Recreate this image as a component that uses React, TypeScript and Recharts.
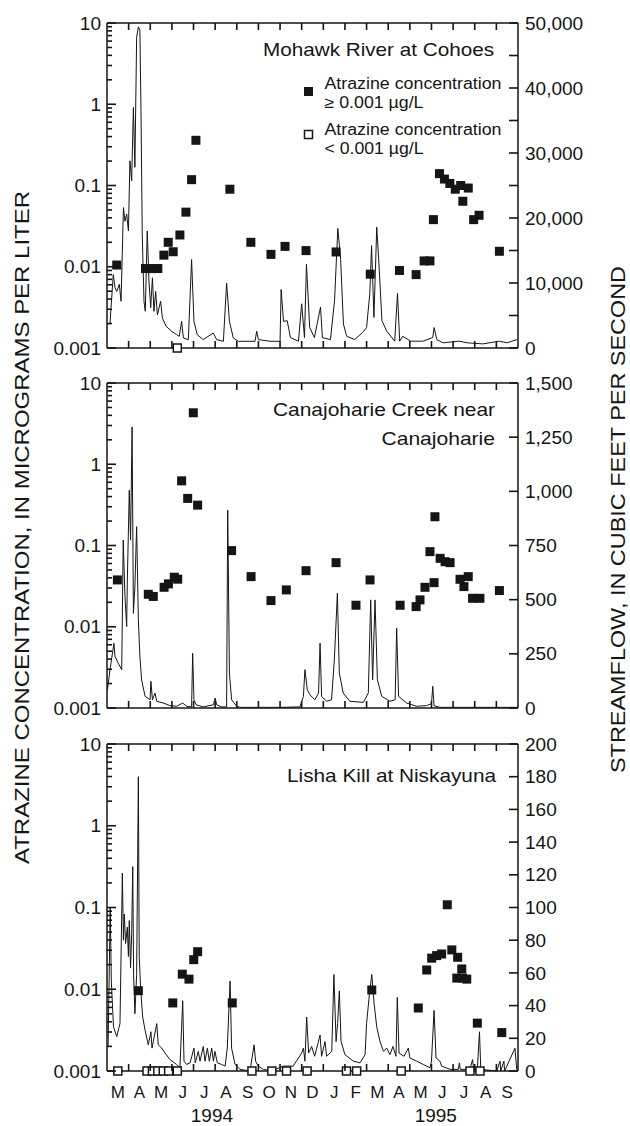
import React from 'react';
import { ComposedChart, Line, Scatter, XAxis, YAxis, ReferenceLine } from 'recharts';

// x values are months counted from 1 March 1994
const MONTHS = ['M', 'A', 'M', 'J', 'J', 'A', 'S', 'O', 'N', 'D', 'J', 'F', 'M', 'A', 'M', 'J', 'J', 'A', 'S'];
const YEARS = [
  { m: 4.85, label: '1994' },
  { m: 15.2, label: '1995' },
];
const CONC_MAJOR = [0.001, 0.01, 0.1, 1, 10];

// Mohawk River at Cohoes
const mohawkFlow: [number, number][] = [
  [0.02, 3600], [0.14, 3850], [0.29, 11300], [0.37, 9300], [0.45, 8700], [0.57, 9800], [0.65, 7200],
  [0.76, 21600], [0.83, 19500], [0.91, 20600], [0.99, 18000], [1.06, 28800], [1.14, 25700], [1.22, 37000],
  [1.29, 27800], [1.37, 47800], [1.45, 49400], [1.52, 48900], [1.57, 37000], [1.63, 17500], [1.71, 7200],
  [1.77, 5650], [1.86, 18000], [1.94, 10300], [2.02, 6200], [2.1, 10800], [2.17, 5650], [2.25, 8700],
  [2.33, 5100], [2.48, 7200], [2.56, 4600], [2.73, 3350], [2.99, 2570], [3.22, 2050], [3.34, 1800],
  [3.45, 4100], [3.53, 1540], [3.76, 1290], [3.91, 13600], [4.02, 4100], [4.17, 2050], [4.45, 1290],
  [4.91, 2300], [5.07, 1290], [5.38, 1030], [5.53, 10000], [5.66, 4100], [5.84, 1540], [6.07, 1030],
  [6.84, 1030], [6.92, 2570], [7.0, 1290], [7.54, 1030], [8.0, 1030], [8.05, 9000], [8.16, 4100],
  [8.33, 4200], [8.48, 1600], [8.85, 1050], [9.0, 6800], [9.13, 1600], [9.22, 12900], [9.37, 3150],
  [9.59, 1600], [9.87, 6300], [9.96, 1600], [10.33, 1300], [10.52, 7350], [10.67, 18400], [10.8, 13650],
  [10.93, 3700], [11.08, 1800], [11.45, 1300], [11.82, 2400], [12.0, 3150], [12.15, 8400], [12.23, 15750],
  [12.34, 4700], [12.47, 18600], [12.56, 13650], [12.71, 4200], [12.93, 2600], [13.3, 1050], [13.43, 8400],
  [13.53, 1050], [13.67, 1800], [14.04, 1050], [14.6, 1050], [15.06, 1600], [15.12, 3150], [15.25, 1300],
  [15.53, 800], [16.27, 1050], [16.64, 800], [17.38, 630], [18.13, 1050], [18.5, 800], [18.96, 1300],
];
const mohawkDetect: [number, number][] = [
  [0.45, 0.0105], [1.78, 0.0095], [2.07, 0.0095], [2.35, 0.0095], [2.63, 0.0139], [2.83, 0.02], [3.06, 0.0153],
  [3.37, 0.0246], [3.65, 0.047], [3.91, 0.118], [4.11, 0.36], [5.68, 0.09], [6.65, 0.02], [7.58, 0.0142],
  [8.23, 0.0178], [9.2, 0.0158], [10.59, 0.0152], [12.17, 0.0081], [13.52, 0.009], [14.29, 0.008],
  [14.66, 0.0118], [14.93, 0.0118], [15.09, 0.038], [15.37, 0.14], [15.6, 0.12], [15.85, 0.106], [16.1, 0.09],
  [16.35, 0.1], [16.45, 0.064], [16.7, 0.093], [16.95, 0.038], [17.2, 0.043], [18.14, 0.0155],
];
const mohawkNonDetect = [3.25];

// Canajoharie Creek near Canajoharie
const canajoharieFlow: [number, number][] = [
  [0.02, 84], [0.14, 177], [0.32, 299], [0.37, 238], [0.52, 207], [0.68, 177], [0.75, 775], [0.83, 514],
  [0.91, 376], [0.94, 591], [1.03, 1005], [1.09, 775], [1.16, 1297], [1.22, 437], [1.29, 560], [1.37, 837],
  [1.45, 407], [1.52, 238], [1.6, 130], [1.76, 54], [1.99, 38], [2.03, 123], [2.1, 38], [2.22, 69],
  [2.3, 31], [2.6, 23], [2.91, 11], [3.22, 8], [3.5, 23], [3.68, 8], [3.91, 5], [3.96, 253], [4.02, 38],
  [4.12, 15], [4.45, 5], [4.92, 15], [5.0, 46], [5.07, 15], [5.3, 5], [5.53, 5], [5.58, 913], [5.66, 161],
  [5.76, 38], [5.99, 8], [6.15, 3], [7.0, 3], [8.0, 3], [8.92, 5], [9.08, 54], [9.15, 177], [9.26, 84],
  [9.38, 61], [9.61, 38], [9.78, 69], [9.85, 299], [9.92, 54], [10.15, 31], [10.38, 38], [10.51, 223],
  [10.65, 530], [10.74, 161], [10.92, 69], [11.23, 31], [11.85, 26], [12.08, 69], [12.19, 499], [12.28, 130],
  [12.39, 499], [12.5, 130], [12.7, 54], [13.08, 31], [13.32, 38], [13.39, 368], [13.48, 54], [13.85, 23],
  [14.31, 8], [14.77, 11], [15.0, 20], [15.06, 100], [15.12, 10], [15.4, 3], [18.99, 3],
];
const canajoharieDetect: [number, number][] = [
  [0.48, 0.0377], [1.91, 0.0251], [2.14, 0.0236], [2.64, 0.0306], [2.84, 0.0337], [3.11, 0.0407],
  [3.27, 0.0385], [3.45, 0.625], [3.73, 0.38], [3.99, 4.3], [4.19, 0.314], [5.76, 0.0865], [6.66, 0.0414],
  [7.58, 0.021], [8.29, 0.0284], [9.2, 0.049], [10.59, 0.0615], [11.51, 0.0184], [12.16, 0.0377],
  [13.55, 0.0184], [14.29, 0.0177], [14.47, 0.0214], [14.7, 0.0306], [14.93, 0.084], [15.12, 0.0349],
  [15.16, 0.226], [15.4, 0.0695], [15.63, 0.0632], [15.86, 0.0615], [16.32, 0.0384], [16.5, 0.0312],
  [16.7, 0.0414], [16.9, 0.0224], [17.24, 0.0224], [18.14, 0.0279],
];
const canajoharieNonDetect: number[] = [];

// Lisha Kill at Niskayuna
const lishaFlow: [number, number][] = [
  [0.05, 15], [0.15, 100], [0.2, 55], [0.3, 27], [0.45, 21], [0.6, 29], [0.71, 121], [0.76, 80], [0.8, 96],
  [0.86, 78], [0.94, 88], [0.99, 70], [1.03, 92], [1.09, 63], [1.14, 84], [1.19, 125], [1.23, 59], [1.29, 35],
  [1.37, 59], [1.45, 180], [1.49, 70], [1.56, 49], [1.65, 33], [1.76, 25], [1.91, 16], [2.03, 24], [2.08, 14],
  [2.14, 18], [2.3, 29], [2.37, 16], [2.53, 14], [2.68, 11], [2.91, 7], [3.22, 4], [3.37, 2], [3.5, 43],
  [3.56, 6], [3.68, 4], [3.84, 5], [4.02, 14], [4.08, 5], [4.22, 12], [4.3, 6], [4.45, 15], [4.53, 6],
  [4.64, 14], [4.73, 6], [4.84, 14], [4.92, 6], [4.99, 12], [5.1, 5], [5.3, 4], [5.46, 3], [5.56, 14],
  [5.69, 55], [5.76, 14], [5.92, 4], [6.15, 1], [6.61, 0], [6.8, 16], [6.87, 6], [6.99, 3], [7.23, 1],
  [7.61, 0], [8.15, 3], [8.61, 3], [9.0, 11], [9.08, 14], [9.15, 6], [9.23, 33], [9.32, 11], [9.46, 15],
  [9.6, 9], [9.85, 22], [9.92, 9], [10.08, 18], [10.15, 9], [10.39, 12], [10.49, 59], [10.59, 18],
  [10.66, 29], [10.74, 49], [10.82, 18], [11.0, 10], [11.39, 6], [11.7, 5], [11.93, 10], [12.0, 29],
  [12.13, 47], [12.24, 59], [12.35, 41], [12.47, 27], [12.62, 18], [12.78, 12], [12.93, 14], [13.08, 10],
  [13.22, 15], [13.36, 9], [13.42, 45], [13.5, 11], [13.73, 9], [13.93, 14], [14.0, 8], [14.32, 6],
  [14.62, 4], [14.93, 2], [15.0, 6], [15.12, 37], [15.21, 8], [15.39, 6], [15.47, 3], [15.86, 1],
  [16.24, 1], [16.29, 5], [16.33, 1], [16.78, 1], [16.9, 7], [16.95, 1], [17.12, 1], [17.22, 24],
  [17.28, 1], [18.02, 0], [18.17, 6], [18.2, 0], [18.35, 6], [18.38, 0], [18.86, 14], [18.94, 1], [18.99, 0],
];
const lishaDetect: [number, number][] = [
  [1.45, 0.0096], [3.04, 0.0068], [3.48, 0.0153], [3.79, 0.0133], [4.01, 0.023], [4.19, 0.0288],
  [5.79, 0.0068], [12.24, 0.0098], [14.39, 0.0059], [14.78, 0.0172], [15.01, 0.024], [15.24, 0.0258],
  [15.47, 0.027], [15.73, 0.108], [15.94, 0.0303], [16.17, 0.0137], [16.21, 0.0246], [16.4, 0.0177],
  [16.44, 0.0137], [16.63, 0.0133], [17.12, 0.00385], [18.25, 0.00295],
];
const lishaNonDetect = [0.5, 1.85, 2.1, 2.35, 2.6, 2.85, 3.25, 6.7, 7.62, 8.3, 9.25, 11.07, 11.54, 13.6, 16.78, 17.24];

const FONT = '"Liberation Sans", Arial, Helvetica, sans-serif';
const INK = '#151515';

const concTicks = [
  ...CONC_MAJOR,
  ...CONC_MAJOR.slice(0, -1).flatMap((d) => [2, 3, 4, 5, 6, 7, 8, 9].map((k) => d * k)),
];
const boundaryTicks = MONTHS.slice(1).map((_, i) => i + 1);
const labelTicks = MONTHS.map((_, i) => i + 0.5);

const FilledSquare = (p: any) => (
  <rect x={p.cx - 4.5} y={p.cy - 4.5} width={9} height={9} fill={INK} />
);
const OpenSquare = (p: any) => (
  <rect x={p.cx - 4} y={p.cy - 4} width={8} height={8} fill="#fff" stroke={INK} strokeWidth={1.5} />
);

const BottomTick = ({ x, y, payload, plotTop, showLabels }: any) => {
  const v = payload.value;
  if (Number.isInteger(v)) {
    return (
      <g>
        <path d={`M${x},${y}V${y - 7}M${x},${plotTop}V${plotTop + 7}`} stroke={INK} strokeWidth={1.6} fill="none" />
      </g>
    );
  }
  if (!showLabels) return <g />;
  const year = YEARS.find((yr) => yr.m === v);
  if (year) {
    return (
      <text x={x} y={y + 44} dy="0.35em" textAnchor="middle" fontSize={19} fill={INK} fontFamily={FONT}>
        {year.label}
      </text>
    );
  }
  return (
    <text x={x} y={y + 21} dy="0.35em" textAnchor="middle" fontSize={17} fill={INK} fontFamily={FONT}>
      {MONTHS[Math.floor(v)]}
    </text>
  );
};

const LeftTick = ({ x, y, payload }: any) => {
  const v = payload.value;
  const major = CONC_MAJOR.includes(v);
  return (
    <g>
      <path d={`M${x},${y}H${x + (major ? 9 : 5)}`} stroke={INK} strokeWidth={1.6} fill="none" />
      {major && (
        <text x={x - 6} y={y} dy="0.35em" textAnchor="end" fontSize={19} fill={INK} fontFamily={FONT}>
          {String(v)}
        </text>
      )}
    </g>
  );
};

const RightTick = ({ x, y, payload, labelStep }: any) => {
  const v = payload.value;
  const labelled = v % labelStep === 0;
  return (
    <g>
      <path d={`M${x},${y}H${x - 9}`} stroke={INK} strokeWidth={1.6} fill="none" />
      {labelled && (
        <text x={x + 7} y={y} dy="0.35em" textAnchor="start" fontSize={19} fill={INK} fontFamily={FONT}>
          {v.toLocaleString('en-US')}
        </text>
      )}
    </g>
  );
};

interface PanelProps {
  flow: [number, number][];
  detect: [number, number][];
  nondetect: number[];
  flowTicks: number[];
  labelStep: number;
  top: number;
  height: number;
  marginTop: number;
  marginBottom: number;
  showLabels?: boolean;
}

const Panel = ({ flow, detect, nondetect, flowTicks, labelStep, top, height, marginTop, marginBottom, showLabels }: PanelProps) => {
  const flowData = flow.map(([m, q]) => ({ m, q }));
  const detectData = detect.map(([m, c]) => ({ m, c }));
  const nonDetectData = nondetect.map((m) => ({ m, c: 0.001 }));
  const xTicks = showLabels
    ? [...boundaryTicks, ...labelTicks, ...YEARS.map((yr) => yr.m)]
    : boundaryTicks;
  const frame = { stroke: INK, strokeWidth: 1.5 };
  return (
    <div style={{ position: 'absolute', left: 0, top, width: 630, height }}>
      <ComposedChart
        width={630}
        height={height}
        margin={{ top: marginTop, right: 0, bottom: marginBottom - 1, left: 0 }}
      >
        <XAxis
          xAxisId="m"
          dataKey="m"
          type="number"
          domain={[0, 19]}
          ticks={xTicks}
          interval={0}
          height={1}
          tickSize={0}
          tickMargin={0}
          tickLine={false}
          axisLine={frame}
          tick={(p: any) => <BottomTick {...p} plotTop={marginTop} showLabels={showLabels} />}
        />
        <YAxis
          yAxisId="c"
          orientation="left"
          type="number"
          scale="log"
          domain={[0.001, 10]}
          ticks={concTicks}
          interval={0}
          width={107}
          tickSize={0}
          tickMargin={0}
          tickLine={false}
          axisLine={frame}
          tick={(p: any) => <LeftTick {...p} />}
        />
        <YAxis
          yAxisId="q"
          orientation="right"
          type="number"
          domain={[0, flowTicks[flowTicks.length - 1]]}
          ticks={flowTicks}
          interval={0}
          width={112}
          tickSize={0}
          tickMargin={0}
          tickLine={false}
          axisLine={frame}
          tick={(p: any) => <RightTick {...p} labelStep={labelStep} />}
        />
        <ReferenceLine xAxisId="m" yAxisId="c" y={10} stroke={INK} strokeWidth={1.5} />
        <Line
          xAxisId="m"
          yAxisId="q"
          data={flowData}
          dataKey="q"
          type="linear"
          stroke={INK}
          strokeWidth={1}
          dot={false}
          activeDot={false}
          isAnimationActive={false}
        />
        <Scatter
          xAxisId="m"
          yAxisId="c"
          data={detectData}
          dataKey="c"
          shape={FilledSquare}
          isAnimationActive={false}
        />
        <Scatter
          xAxisId="m"
          yAxisId="c"
          data={nonDetectData}
          dataKey="c"
          shape={OpenSquare}
          isAnimationActive={false}
        />
      </ComposedChart>
    </div>
  );
};

const Title = ({ x, y, len, size, children }: any) => (
  <text
    x={x}
    y={y}
    dominantBaseline="central"
    fontSize={size}
    textLength={len}
    lengthAdjust="spacingAndGlyphs"
    fill={INK}
  >
    {children}
  </text>
);

export default function App() {
  return (
    <div
      style={{
        position: 'relative',
        width: 630,
        height: 1126,
        background: '#fff',
        fontFamily: FONT,
        overflow: 'hidden',
      }}
    >
      <style>{'body{margin:0}'}</style>
      <Panel
        flow={mohawkFlow}
        detect={mohawkDetect}
        nondetect={mohawkNonDetect}
        flowTicks={[0, 5000, 10000, 15000, 20000, 25000, 30000, 35000, 40000, 45000, 50000]}
        labelStep={10000}
        top={0}
        height={370}
        marginTop={23}
        marginBottom={22}
      />
      <Panel
        flow={canajoharieFlow}
        detect={canajoharieDetect}
        nondetect={canajoharieNonDetect}
        flowTicks={[0, 250, 500, 750, 1000, 1250, 1500]}
        labelStep={250}
        top={370}
        height={360}
        marginTop={13}
        marginBottom={22}
      />
      <Panel
        flow={lishaFlow}
        detect={lishaDetect}
        nondetect={lishaNonDetect}
        flowTicks={[0, 20, 40, 60, 80, 100, 120, 140, 160, 180, 200]}
        labelStep={20}
        top={730}
        height={396}
        marginTop={14}
        marginBottom={55}
        showLabels
      />
      <svg
        width={630}
        height={1126}
        style={{ position: 'absolute', left: 0, top: 0, pointerEvents: 'none' }}
        fontFamily={FONT}
      >
        <Title x={263} y={49} len={231} size={18.5}>Mohawk River at Cohoes</Title>
        <rect x={304} y={87} width={9} height={9} fill={INK} />
        <Title x={324.5} y={83} len={177} size={16}>Atrazine concentration</Title>
        <Title x={324.5} y={102} len={99} size={16}>≥ 0.001 µg/L</Title>
        <rect x={304.5} y={130.5} width={8} height={8} fill="#fff" stroke={INK} strokeWidth={1.5} />
        <Title x={324.5} y={129.5} len={177} size={16}>Atrazine concentration</Title>
        <Title x={324.5} y={148} len={99} size={16}>&lt; 0.001 µg/L</Title>

        <Title x={273} y={409} len={222} size={18.5}>Canajoharie Creek near</Title>
        <Title x={381.5} y={438} len={113.5} size={18.5}>Canajoharie</Title>

        <Title x={287} y={775} len={209} size={18.5}>Lisha Kill at Niskayuna</Title>

        <text
          transform="translate(21,527.5) rotate(-90)"
          textAnchor="middle"
          dominantBaseline="central"
          fontSize={21}
          textLength={673}
          lengthAdjust="spacingAndGlyphs"
          fill={INK}
        >
          ATRAZINE CONCENTRATION, IN MICROGRAMS PER LITER
        </text>
        <text
          transform="translate(617,519.5) rotate(-90)"
          textAnchor="middle"
          dominantBaseline="central"
          fontSize={21}
          textLength={507}
          lengthAdjust="spacingAndGlyphs"
          fill={INK}
        >
          STREAMFLOW, IN CUBIC FEET PER SECOND
        </text>
      </svg>
    </div>
  );
}
